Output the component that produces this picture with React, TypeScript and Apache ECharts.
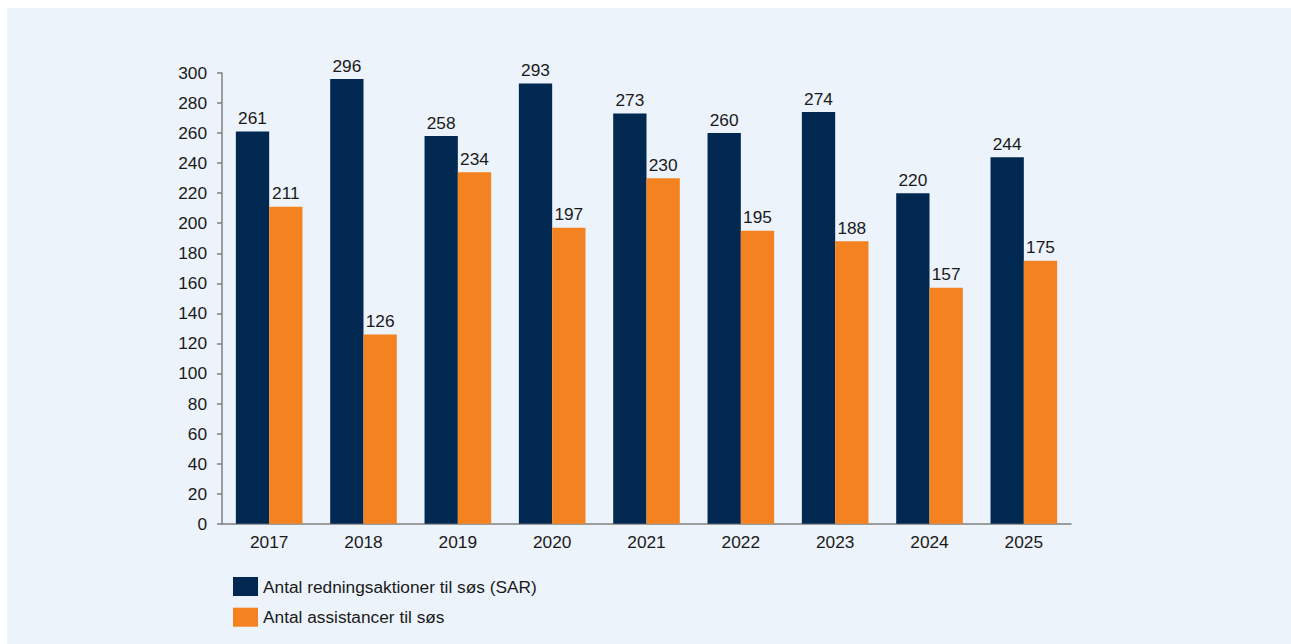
import React, { useEffect, useRef } from "react";
import * as echarts from "echarts";

const years = ["2017", "2018", "2019", "2020", "2021", "2022", "2023", "2024", "2025"];
const sarValues = [261, 296, 258, 293, 273, 260, 274, 220, 244];
const assistValues = [211, 126, 234, 197, 230, 195, 188, 157, 175];
const seriesNames = ["Antal redningsaktioner til søs (SAR)", "Antal assistancer til søs"];

export default function App() {
  const ref = useRef<HTMLDivElement>(null);
  useEffect(() => {
    if (!ref.current) return;
    const chart = echarts.init(ref.current, null, { renderer: "svg" });
    const font = "'Liberation Sans', Arial, sans-serif";
    const fs = 17.3;
    chart.setOption({
      animation: false,
      backgroundColor: "#ecf3fa",
      textStyle: { fontFamily: font },
      grid: { left: 215, right: 220, top: 65, bottom: 120.3, containLabel: false },
      legend: {
        orient: "vertical",
        left: 226,
        top: 569,
        padding: 0,
        itemWidth: 25,
        itemHeight: 19,
        itemGap: 11.7,
        icon: "rect",
        textStyle: { fontSize: fs, color: "#1a1a1a", fontFamily: font },
        data: seriesNames,
      },
      xAxis: {
        type: "category",
        data: years,
        axisLine: { lineStyle: { color: "#7f7f7f", width: 1.5 } },
        axisTick: { show: false },
        axisLabel: { fontSize: fs, color: "#1a1a1a", margin: 10, fontFamily: font },
      },
      yAxis: {
        type: "value",
        min: 0,
        max: 300,
        interval: 20,
        axisLine: { show: true, lineStyle: { color: "#7f7f7f", width: 1.5 } },
        axisTick: { show: true, length: 5, lineStyle: { color: "#7f7f7f", width: 1.5 } },
        splitLine: { show: false },
        axisLabel: { fontSize: fs, color: "#1a1a1a", margin: 15, fontFamily: font },
      },
      series: [
        {
          name: seriesNames[0],
          type: "bar",
          data: sarValues,
          barWidth: 33.3,
          barGap: "0%",
          itemStyle: { color: "#002851" },
          label: { show: true, position: "top", distance: 5, fontSize: fs, color: "#1a1a1a", fontFamily: font },
        },
        {
          name: seriesNames[1],
          type: "bar",
          data: assistValues,
          barWidth: 33.3,
          barGap: "0%",
          itemStyle: { color: "#f58220" },
          label: { show: true, position: "top", distance: 5, fontSize: fs, color: "#1a1a1a", fontFamily: font },
        },
      ],
    });
    return () => chart.dispose();
  }, []);
  return (
    <div
      ref={ref}
      style={{ position: "absolute", left: 7, top: 8, width: 1284, height: 636 }}
    />
  );
}
